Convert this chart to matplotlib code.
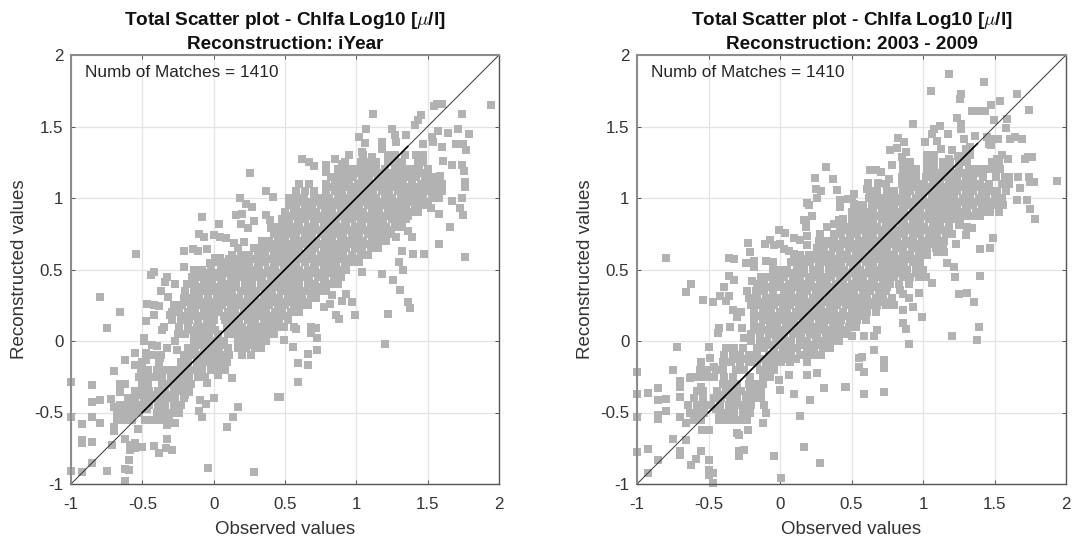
import matplotlib
matplotlib.use("Agg")
import matplotlib.pyplot as plt

plt.rcParams['font.family'] = ['Liberation Sans', 'DejaVu Sans']
plt.rcParams['mathtext.fontset'] = 'cm'

TICKS = [-1, -0.5, 0, 0.5, 1, 1.5, 2]
TICK_LABELS = ['-1', '-0.5', '0', '0.5', '1', '1.5', '2']
X_LABEL = 'Observed values'
Y_LABEL = 'Reconstructed values'
ANNOTATION = 'Numb of Matches = 1410'
TITLE_TOP = r'Total Scatter plot - Chlfa Log10 [$\mu$/l]'
SUBTITLE_LEFT = 'Reconstruction: iYear'
SUBTITLE_RIGHT = 'Reconstruction: 2003 - 2009'
IDENTITY = [-1, 2]
LEFT_FIT = [-0.5, 1.36]
RIGHT_FIT = [-0.5, 1.38]

# Isolated points, read one at a time: (observed, reconstructed)
left_sparse = [
 (1.944,1.65),(1.12,1.59),(1.547,1.64),(1.568,1.66),(1.60,1.66),(1.74,1.59),(1.453,1.58),(1.435,1.545),(1.41,1.51),
 (1.065,1.48),(1.016,1.43),(1.06,1.385),(1.25,1.48),(1.27,1.44),(1.35,1.44),(1.28,1.39),(1.18,1.39),(1.18,1.345),
 (1.575,1.47),(1.64,1.455),(1.715,1.48),(1.79,1.45),(1.53,1.43),(1.54,1.39),(1.60,1.36),(1.47,1.375),(1.70,1.38),(1.745,1.375),(1.77,1.335),
 (1.04,1.32),(1.11,1.29),(.95,1.30),(.85,1.27),(.62,1.27),(.665,1.25),(.705,1.225),(.785,1.23),(.785,1.18),(.90,1.235),
 (1.61,1.26),(1.67,1.23),(1.74,1.23),(1.755,1.19),(1.585,1.155),(1.76,1.11),(1.76,1.08),(1.74,1.0),(1.67,.98),(1.73,.93),(1.745,.88),
 (1.58,.885),(1.52,.93),(1.66,.80),(1.58,.675),(1.40,.61),(1.475,.61),(1.765,.59),(1.32,.63),(1.30,.55),(1.39,.725),(1.36,.77),(1.28,.73),(1.31,.81),
 (1.04,.485),(1.18,.47),(1.33,.5),(1.255,.43),(1.305,.36),(1.36,.27),(1.375,.23),(1.225,.19),(.99,.185),(.97,.27),(.93,.33),(.90,.28),(.815,.26),(.77,.24),(.86,.18),(.88,.155),(.83,.32),
 (.495,.10),(.56,.095),(.58,.085),(.49,.01),(.555,-.04),(.725,.02),(.725,-.06),(.66,-.09),(.59,-.155),(.66,-.17),(.59,-.29),(.465,-.395),(1.20,-.02),(.68,.10),(.68,.055),(.72,.09),
 (-.80,.31),(-.66,.20),(-.745,.09),(-1.0,-.29),(-.855,-.31),(-.855,-.43),(-.80,-.415),(-1.0,-.53),(-.855,-.53),(-.925,-.58),(-.80,-.57),(-.70,-.60),(-.70,-.63),
 (-.925,-.69),(-.925,-.715),(-.855,-.705),(-.71,-.725),(-.625,-.685),(-.53,-.615),(-.585,-.725),(-.585,-.76),(-.55,-.715),(-.55,-.75),(-.50,-.74),(-.42,-.735),(-.38,-.78),(-.335,-.745),(-.29,-.76),(-.325,-.685),
 (-.59,-.835),(-.855,-.85),(-1.0,-.91),(-.925,-.915),(-.745,-.91),(-.625,-.895),(-.59,-.90),(-.625,-.98),(-.04,-.89),(.28,-.915),(.45,-.395),
 (-.70,-.21),(-.625,-.13),(-.55,-.085),(-.55,-.165),(-.655,-.30),(-.625,-.30),(-.66,-.36),(-.72,-.405),(-.70,-.46),
 (.005,-.40),(.17,-.46),(.135,-.53),(.095,-.60),(-.10,-.49),(-.08,-.53),(-.095,-.41),(-.055,-.44),(-.17,-.36),(-.05,-.295),(.03,-.24),(.13,-.26),
 (.255,1.175),(-.545,.61),(-.08,.87),(.04,.82),(.37,1.05),(.415,1.01),(.185,1.0),(.23,.96),(.27,.94),(.16,.88),(.2,.89),(.19,.815),(.24,.79),(.285,.84),(.37,.88),(.395,.845),(.405,.79),
 (-.10,.75),(-.07,.73),(0,.74),(.045,.73),(.085,.72),(-.21,.63),(-.145,.645),(-.11,.63),(-.05,.645),(.14,.685),(.21,.69),(.17,.65),(-.42,.48),(.01,.58),(.045,.58),(-.025,.545),(-.21,.515),(-.14,.50),(.15,.575),(.125,.515),
 (-.44,.46),(-.33,.45),(-.34,.415),(-.37,.35),(-.27,.40),(-.47,.26),(-.42,.25),(-.38,.245),(-.32,.31),(-.42,.18),(-.475,.14),(-.35,.10),(-.365,.08),(-.305,.18),
 (-.49,.02),(-.49,0),(-.435,-.03),(-.40,-.035),(-.325,-.05),(-.255,-.06),(-.475,-.085),(-.475,-.13),(-.53,-.17),(-.375,-.12),
 (-.33,-.585),(-.27,-.575),(-.475,-.55),(-.35,-.545),
]

# Dense cloud, read along horizontal bands: (reconstructed, [observed, ...])
left_bands = [
 (-.55,[-.68,-.63,-.575,-.48,-.42,-.36,-.31]),
 (-.50,[-.68,-.62,-.57,-.52,-.40,-.35,-.29,-.24]),
 (-.475,[-.6,-.47,-.36,-.26]),
 (-.45,[-.66,-.61,-.56,-.50,-.45,-.39,-.34,-.28,-.23]),
 (-.40,[-.60,-.55,-.49,-.44,-.38,-.33,-.27,-.21]),
 (-.375,[-.53,-.42,-.31,-.2]),
 (-.35,[-.55,-.50,-.45,-.39,-.34,-.28,-.22,-.17]),
 (-.30,[-.50,-.46,-.36,-.32,-.30,-.26,-.21,-.16]),
 (-.25,[-.52,-.47,-.41,-.36,-.30,-.26,-.22,-.17,-.11,-.06]),
 (-.20,[-.51,-.46,-.40,-.34,-.29,-.24,-.19,-.13,-.08,-.02,.03,.08]),
 (-.15,[-.50,-.38,-.23,-.18,-.12,-.07,-.01,.04,.09]),
 (-.125,[-.1,-.04,.03]),
 (-.10,[-.47,-.42,-.37,-.21,-.16,-.10,-.05,.0,.06,.11,.20,.26]),
 (-.05,[-.18,-.13,-.07,-.02,.04,.1,.17,.23,.29,.33]),
 (-.025,[-.1,-.0,.07,.2,.26]),
 (0.0,[-.27,-.14,-.09,-.03,.02,.07,.17,.22,.27,.32,.37]),
 (.05,[-.25,-.20,-.14,-.08,-.03,.03,.10,.16,.21,.27,.32,.37,.42]),
 (.075,[-.17,-.1,-.05,.01,.13,.19,.24,.3,.35,.4]),
 (.10,[-.24,-.18,-.12,-.07,-.01,.09,.15,.20,.26,.31,.37,.42,.47]),
 (.15,[-.29,-.23,-.17,-.11,-.05,.0,.08,.13,.18,.24,.29,.35,.40,.46,.52]),
 (.175,[-.2,-.14,-.08,-.03,.07,.11,.16,.22,.27,.33,.38,.44,.5]),
 (.20,[-.29,-.24,-.18,-.13,-.07,-.02,.04,.10,.15,.21,.26,.32,.37,.43,.48,.54,.60]),
 (.25,[-.28,-.22,-.16,-.10,-.05,.01,.06,.12,.17,.23,.28,.34,.39,.45,.50,.56,.62,.66]),
 (.275,[-.19,-.13,-.07,-.02,.04,.09,.15,.2,.26,.31,.37,.42,.48,.53,.59,.64]),
 (.30,[-.21,-.15,-.10,-.04,.02,.07,.13,.18,.24,.29,.35,.40,.46,.52,.57,.62,.68,.72]),
 (.35,[-.20,-.14,-.09,-.03,.02,.08,.13,.19,.25,.30,.36,.41,.47,.52,.58,.63,.69,.74,.79]),
 (.375,[-.11,-.06,.0,.05,.1,.16,.22,.27,.33,.38,.44,.49,.55,.6,.66,.71,.76]),
 (.40,[-.19,-.13,-.07,-.01,.05,.11,.16,.22,.27,.33,.38,.44,.49,.55,.60,.66,.71,.77,.82,.87]),
 (.45,[-.15,-.10,-.05,.01,.06,.12,.17,.23,.28,.34,.40,.45,.51,.56,.62,.67,.73,.78,.84,.89]),
 (.475,[-.05,.03,.08,.14,.19,.25,.3,.36,.41,.47,.53,.58,.64,.69,.75,.8,.86]),
 (.50,[-.08,-.02,.05,.10,.16,.21,.27,.32,.38,.43,.49,.55,.60,.66,.71,.77,.82,.88,.93]),
 (.55,[.02,.08,.14,.2,.25,.31,.36,.42,.47,.53,.58,.64,.70,.75,.81,.86,.92,.97,1.02]),
 (.575,[.11,.17,.22,.28,.33,.39,.44,.5,.55,.61,.67,.72,.78,.83,.89,.94,1.0]),
 (.60,[.13,.19,.25,.31,.36,.42,.47,.53,.58,.64,.69,.75,.80,.86,.91,.97,1.03,1.08]),
 (.65,[.28,.33,.38,.44,.49,.55,.6,.66,.71,.77,.82,.88,.93,.99,1.04,1.10,1.15]),
 (.675,[.36,.41,.47,.52,.58,.63,.69,.74,.8,.85,.91,.96,1.02,1.07,1.13]),
 (.70,[.34,.39,.45,.5,.56,.61,.67,.72,.78,.83,.89,.94,1.0,1.05,1.11,1.16,1.21]),
 (.75,[.42,.47,.53,.58,.64,.69,.75,.8,.86,.91,.97,1.02,1.08,1.13,1.19,1.24]),
 (.775,[.46,.52,.57,.63,.68,.74,.79,.85,.9,.96,1.01,1.07,1.12,1.18,1.23]),
 (.80,[.44,.49,.55,.6,.66,.71,.77,.82,.88,.93,.99,1.04,1.10,1.15,1.21,1.27,1.32]),
 (.85,[.48,.53,.59,.64,.7,.75,.81,.86,.92,.97,1.03,1.08,1.14,1.19,1.25,1.3,1.35]),
 (.875,[.54,.59,.65,.7,.76,.81,.87,.92,.98,1.03,1.09,1.14,1.2,1.25,1.31,1.36]),
 (.90,[.50,.56,.61,.67,.72,.78,.83,.89,.94,1.0,1.05,1.11,1.16,1.22,1.27,1.33,1.38,1.43]),
 (.95,[.53,.58,.64,.69,.75,.8,.86,.91,.97,1.02,1.08,1.13,1.19,1.24,1.3,1.35,1.41,1.46,1.5]),
 (.975,[.55,.61,.67,.73,.78,.84,.89,.95,1.0,1.06,1.11,1.17,1.22,1.28,1.33,1.39,1.44,1.5]),
 (1.0,[.53,.58,.63,.7,.76,.81,.87,.92,.98,1.03,1.09,1.14,1.2,1.25,1.31,1.36,1.42,1.47,1.53,1.58]),
 (1.05,[.58,.64,.7,.79,.85,.9,.96,1.01,1.07,1.12,1.18,1.23,1.29,1.34,1.4,1.45,1.51,1.56,1.6]),
 (1.075,[.82,.88,.93,.98,1.04,1.09,1.15,1.2,1.26,1.31,1.36,1.42,1.48,1.53]),
 (1.10,[.6,.67,.79,.85,.9,.95,1.01,1.06,1.12,1.17,1.23,1.28,1.33,1.39,1.45,1.5,1.56,1.6]),
 (1.15,[.82,.87,.93,.98,1.04,1.09,1.15,1.2,1.26,1.31,1.37,1.42,1.48,1.53]),
 (1.175,[.9,.96,1.01,1.06,1.12,1.17,1.23,1.3,1.35,1.41,1.47]),
 (1.20,[.87,.93,.98,1.03,1.08,1.14,1.2,1.27,1.33,1.38,1.44,1.5]),
 (1.25,[.92,1.03,1.08,1.14,1.22,1.27,1.32,1.43,1.47]),
 (1.30,[1.05,1.22,1.27,1.34,1.42,1.47]),
]

right_sparse = [
 (1.185,1.87),(1.43,1.81),(1.055,1.75),(1.265,1.73),(1.26,1.69),(1.66,1.73),(1.54,1.675),(1.74,1.615),(1.475,1.65),(1.34,1.605),(1.40,1.605),(1.435,1.605),
 (1.235,1.56),(1.265,1.52),(1.265,1.485),(1.495,1.545),(1.59,1.55),(1.58,1.49),(.93,1.52),(1.12,1.505),(1.075,1.485),(1.065,1.445),(1.175,1.45),(1.015,1.39),(1.10,1.40),(1.29,1.41),(1.365,1.435),
 (.825,1.42),(.87,1.39),(.815,1.35),(.77,1.335),(.88,1.32),(.855,1.29),(1.125,1.34),(1.205,1.335),(1.245,1.295),(1.18,1.275),(.785,1.23),(1.30,1.345),(1.33,1.355),
 (1.45,1.43),(1.495,1.41),(1.525,1.41),(1.46,1.38),(1.475,1.37),(1.605,1.415),(1.64,1.43),(1.69,1.41),(1.55,1.30),(1.595,1.275),(1.52,1.275),(1.71,1.27),(1.735,1.285),(1.765,1.29),
 (1.665,1.145),(1.74,1.15),(1.745,1.115),(1.775,1.115),(1.68,1.07),(1.94,1.12),(1.66,.985),(1.73,.985),(1.75,.92),(1.785,.855),(1.49,.72),(1.47,.65),(1.40,.64),
 (1.255,.81),(1.345,.79),(1.31,.80),(1.30,.74),(1.23,.68),(1.17,.545),(1.22,.515),(1.145,.62),(1.10,.62),(.63,1.195),(.67,1.195),(.705,1.185),(.615,1.105),(.61,1.065),(.685,1.105),(.76,1.135),(.52,1.03),(.505,.99),(.515,.96),
 (1.065,.405),(.97,.335),(1.225,.445),(1.40,.455),(1.255,.33),(1.305,.335),(1.36,.275),(1.39,.095),(1.375,.01),(1.20,.035),(.90,-.02),(.99,.165),(.93,.235),(.86,.215),(.90,.30),(.84,.36),(.86,.33),(.86,.125),(.88,.085),
 (.68,.075),(.655,.035),(.585,.035),(.505,.035),(.66,-.065),(.575,-.115),(.55,-.12),(.55,-.185),(.585,-.22),(.725,-.135),(.725,-.19),(.46,-.32),(.59,-.37),(.725,-.36),
 (-.62,.40),(-.655,.345),(-.54,.285),(-.47,.27),(-.36,.455),(-.325,.43),(-.395,.38),(-.42,.315),(-.36,.315),(-.38,.28),(-.195,.42),(-.33,.215),(-.27,.20),(-.30,.165),(-.43,.09),(-.435,.055),(-.35,.095),(-.265,.09),(-.25,.02),
 (-.72,-.045),(-.495,-.045),(-.55,-.15),(-.745,-.20),(-.49,-.12),(-.465,-.18),(-1.0,-.215),(-.70,-.28),(-.70,-.32),(-.855,-.33),(-.925,-.365),(-1.0,-.37),(-.855,-.41),(-.80,-.405),(-.70,-.39),(-.80,-.49),(-.855,-.52),(-.855,-.545),(-1.0,-.53),(-.70,-.53),
 (-.63,-.26),(-.55,-.225),(-.55,-.32),(-.66,-.575),(-.745,-.685),(-.66,-.695),(-1.0,-.775),(-.925,-.755),(-.855,-.83),(-.925,-.925),(-.70,-.77),(-.70,-.80),(-.55,-.77),(-.59,-.825),(-.62,-.87),
 (-.495,-.835),(-.495,-.90),(-.47,-.925),(-.495,-.94),(-.47,-.995),(-.29,-.77),(-.29,-.805),(-.25,-.765),(-.30,-.645),(-.285,-.66),(-.225,-.62),(-.12,-.57),(-.545,-.62),(-.50,-.625),(-.04,-.805),(.005,-.96),(.17,-.74),(.28,-.855),
 (.14,-.525),(.21,-.41),(.095,-.37),(.31,-.33),(.455,-.32),(0,-.34),(.06,-.235),(.19,-.235),(.26,-.225),(-.01,-.27),
 (-.795,.58),(-.355,.58),(-.325,.57),(-.24,.545),(-.18,.56),(-.18,.515),(-.10,.56),(-.05,.55),(.075,.55),(-.225,.685),(-.21,.62),(-.105,.675),(-.07,.705),(-.045,.67),(-.005,.775),(.035,.755),(.095,.72),(.14,.705),(.19,.67),(.19,.735),
 (0,.68),(.025,.64),(.06,.63),(.095,.605),(.165,.845),(.185,.845),(.225,.875),(.18,.80),(.19,.965),(.20,.95),(.26,1.0),(.255,1.065),(.285,1.05),(.245,1.14),(.37,1.13),(.32,1.215),(.40,1.055),(.42,.985),(.42,.94),(.475,.99),
 (.33,.795),(.375,.82),(.41,.845),(.425,.79),(.28,.75),
]

right_bands = [
 (-.55,[-.60,-.55,-.43,-.38,-.33,-.28,-.23]),
 (-.50,[-.63,-.58,-.53,-.43,-.37,-.32,-.26,-.21,-.1]),
 (-.475,[-.55,-.45,-.34,-.23]),
 (-.45,[-.64,-.58,-.53,-.48,-.42,-.36,-.31,-.25,-.20,-.11]),
 (-.40,[-.60,-.54,-.46,-.41,-.35,-.30,-.24,-.19,-.13]),
 (-.375,[-.43,-.36,-.3,-.24,-.16]),
 (-.35,[-.58,-.54,-.44,-.38,-.33,-.27,-.21,-.17,-.13]),
 (-.30,[-.40,-.35,-.3,-.22,-.16,-.12]),
 (-.25,[-.62,-.57,-.52,-.46,-.39,-.33,-.21,-.12,-.07]),
 (-.20,[-.56,-.51,-.45,-.40,-.31,-.25,-.14,-.09,-.04]),
 (-.15,[-.40,-.34,-.28,-.22,-.16,-.1,-.05,.01,.07,.19]),
 (-.125,[-.31,-.25,-.19,-.13,-.07,-.01,.05,.11]),
 (-.10,[-.39,-.33,-.28,-.22,-.16,-.08,-.03,.03,.08,.14,.19,.24,.29]),
 (-.05,[-.38,-.32,-.26,-.16,-.11,-.04,.02,.07,.12,.19,.24,.3,.35]),
 (-.025,[-.11,-.06,0,.05,.16,.21,.27,.32]),
 (0.0,[-.20,-.14,-.09,-.03,.02,.08,.14,.19,.25,.31,.36,.41]),
 (.05,[-.2,-.14,-.08,-.02,.03,.09,.15,.21,.26,.32,.37,.43,.47]),
 (.075,[-.16,-.1,-.05,.01,.06,.12,.18,.23,.29,.34,.4,.45]),
 (.10,[-.18,-.13,-.07,-.02,.04,.09,.15,.2,.26,.31,.37,.42,.48,.53]),
 (.15,[-.18,-.12,-.06,-.01,.05,.1,.16,.21,.27,.32,.38,.43,.49,.54,.6]),
 (.175,[-.15,-.09,-.03,.03,.08,.14,.19,.25,.3,.36,.41,.47,.52,.58]),
 (.20,[-.18,-.12,-.06,.0,.05,.11,.16,.22,.27,.33,.38,.44,.5,.55,.61,.67]),
 (.25,[-.20,-.15,-.09,-.04,.02,.07,.13,.18,.24,.29,.35,.4,.46,.52,.57,.63,.68,.74,.8]),
 (.275,[-.17,-.12,-.07,-.01,.04,.1,.15,.21,.26,.32,.37,.43,.48,.54,.59,.65,.7,.76]),
 (.30,[-.22,-.16,-.1,-.05,.01,.06,.12,.17,.23,.28,.34,.39,.45,.5,.56,.61,.67,.72,.78]),
 (.35,[-.23,-.17,-.11,-.05,.03,.08,.14,.19,.25,.3,.36,.41,.47,.52,.58,.63,.69,.74]),
 (.375,[-.14,-.08,-.02,.03,.09,.14,.2,.25,.31,.36,.42,.47,.53,.58,.64,.69,.75]),
 (.40,[-.16,-.11,-.05,.0,.06,.11,.17,.22,.28,.33,.39,.44,.5,.55,.61,.66,.72,.77,.83,.9]),
 (.45,[-.13,-.08,-.02,.03,.09,.14,.2,.25,.31,.36,.42,.47,.53,.58,.64,.69,.75,.8,.86,.91,.97,1.02]),
 (.475,[-.05,.0,.06,.12,.17,.23,.28,.34,.39,.45,.5,.56,.61,.67,.72,.78,.84,.89,.95]),
 (.50,[-.05,.0,.05,.12,.17,.23,.28,.34,.4,.45,.51,.56,.62,.67,.73,.78,.84,.89,.95,1.0]),
 (.55,[.11,.16,.21,.27,.32,.38,.43,.49,.54,.6,.65,.71,.76,.82,.87,.93,.98]),
 (.575,[.18,.23,.29,.34,.4,.45,.51,.56,.62,.67,.73,.78,.84,.89,.95]),
 (.60,[.14,.2,.25,.31,.36,.42,.47,.53,.58,.64,.69,.75,.8,.86,.91,.97,1.03]),
 (.65,[.26,.31,.37,.42,.48,.53,.59,.64,.7,.75,.81,.86,.92,.97,1.03,1.09,1.14]),
 (.675,[.35,.4,.46,.51,.57,.62,.68,.73,.79,.84,.9,.95,1.01,1.07,1.12]),
 (.70,[.27,.33,.38,.44,.49,.55,.6,.66,.71,.77,.82,.88,.93,.99,1.04,1.1,1.15]),
 (.75,[.38,.43,.49,.54,.6,.65,.71,.76,.82,.87,.93,.98,1.04,1.1,1.16,1.2]),
 (.775,[.45,.51,.56,.62,.67,.73,.78,.84,.89,.95,1.0,1.06,1.11,1.17]),
 (.80,[.42,.47,.52,.57,.63,.68,.74,.79,.85,.9,.96,1.01,1.07,1.12,1.18]),
 (.85,[.44,.5,.55,.6,.65,.71,.76,.82,.87,.93,.98,1.04,1.09,1.15,1.2,1.26]),
 (.875,[.57,.63,.68,.74,.79,.85,.9,.96,1.01,1.07,1.12,1.18,1.23,1.29,1.34,1.4]),
 (.90,[.5,.55,.6,.65,.71,.76,.82,.87,.93,.98,1.04,1.09,1.15,1.2,1.26,1.31,1.37,1.43,1.47,1.53]),
 (.95,[.53,.58,.64,.69,.75,.8,.86,.91,.97,1.02,1.08,1.13,1.19,1.24,1.3,1.35,1.41,1.46,1.52,1.56]),
 (.975,[.65,.7,.76,.81,.87,.92,.98,1.03,1.09,1.14,1.2,1.25,1.31,1.36,1.42,1.47,1.53]),
 (1.0,[.62,.67,.73,.78,.84,.89,.95,1.0,1.06,1.11,1.17,1.22,1.28,1.33,1.39,1.44,1.5,1.55]),
 (1.05,[.63,.68,.75,.8,.86,.91,.97,1.02,1.08,1.13,1.19,1.24,1.3,1.35,1.41,1.46,1.52,1.58]),
 (1.075,[.88,.93,.99,1.04,1.1,1.15,1.21,1.26,1.32,1.37,1.43]),
 (1.10,[.74,.85,.9,.96,1.01,1.07,1.12,1.18,1.23,1.29,1.34,1.4,1.46,1.55,1.6]),
 (1.15,[.85,.9,.95,1.02,1.08,1.13,1.19,1.24,1.3,1.35,1.42,1.51,1.57,1.6]),
 (1.175,[.88,.93,1.05,1.11,1.16,1.22,1.28,1.34,1.4]),
 (1.20,[.86,.91,.95,1.03,1.08,1.14,1.19,1.25,1.32,1.37,1.43,1.48,1.54]),
 (1.25,[.86,.91,1.03,1.08,1.14,1.19,1.25,1.31,1.48,1.53]),
 (1.30,[1.03,1.08,1.3,1.33]),
]

W, H = 1073, 543
fig = plt.figure(figsize=(W / 100, H / 100), dpi=100, facecolor='white')


def panel(box, sparse, bands, subtitle, fit):
    ax = fig.add_axes([box[0] / W, (H - box[3]) / H, (box[2] - box[0]) / W, (box[3] - box[1]) / H])
    obs = [p[0] for p in sparse] + [x for y, xs in bands for x in xs]
    rec = [p[1] for p in sparse] + [y for y, xs in bands for x in xs]
    ax.scatter(obs, rec, s=29, marker='s', color='#b2b2b2', linewidths=0, zorder=3, clip_on=False)
    ax.plot(IDENTITY, IDENTITY, color='#333333', lw=0.7, zorder=4)
    ax.plot(fit, fit, color='black', lw=1.2, zorder=5)
    ax.set_xlim(-1, 2)
    ax.set_ylim(-1, 2)
    ax.set_xticks(TICKS, TICK_LABELS)
    ax.set_yticks(TICKS, TICK_LABELS)
    ax.grid(True, color='#e3e3e3', lw=0.9, zorder=0)
    ax.set_axisbelow(True)
    ax.tick_params(direction='in', top=True, right=True, length=3, width=0.7, color='#555555',
                   labelsize=12.2, labelcolor='#333333')
    ax.tick_params(axis='x', pad=9.5)
    ax.tick_params(axis='y', pad=5.5)
    for name, spine in ax.spines.items():
        spine.set_color('#8c8c8c' if name in ('left', 'top') else '#555555')
        spine.set_linewidth(1.5 if name in ('left', 'top') else 1.0)
        spine.set_zorder(6)
    ax.set_xlabel(X_LABEL, fontsize=13.5, color='#333333', va='center')
    ax.set_ylabel(Y_LABEL, fontsize=13.5, color='#333333', va='center')
    ax.xaxis.set_label_coords(0.5, -46 / 429)
    ax.yaxis.set_label_coords(-51.5 / 428, 0.5)
    ax.text(-0.9, 1.877, ANNOTATION, fontsize=12.4, color='#262626', va='center', ha='left', zorder=7)
    ax.set_title(TITLE_TOP + '\n' + subtitle, fontsize=13.7, fontweight='bold', color='#111111', pad=4, linespacing=1.42)
    return ax


panel((71, 55, 499, 484), left_sparse, left_bands, SUBTITLE_LEFT, LEFT_FIT)
panel((637, 55, 1066, 484), right_sparse, right_bands, SUBTITLE_RIGHT, RIGHT_FIT)
fig.savefig('out.png', dpi=100)
